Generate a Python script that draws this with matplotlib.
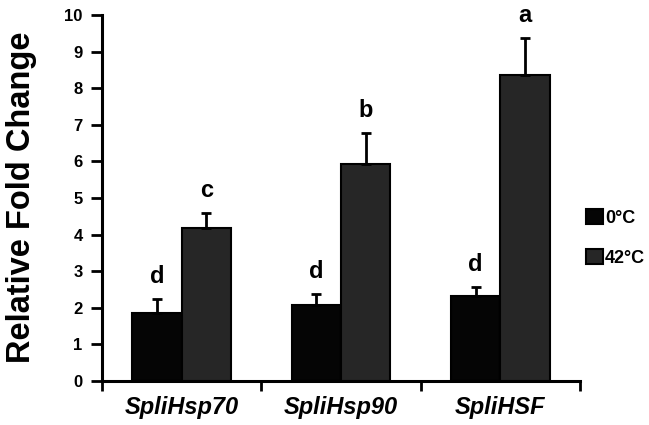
import numpy as np
import matplotlib
matplotlib.use("Agg")
import matplotlib.pyplot as plt

plt.rcParams['font.family'] = ['Liberation Sans', 'DejaVu Sans']

# data
genes = ["SpliHsp70", "SpliHsp90", "SpliHSF"]
cold = [1.87, 2.09, 2.31]          # 0°C
cold_err = [0.38, 0.30, 0.25]
hot = [4.17, 5.92, 8.36]           # 42°C
hot_err = [0.41, 0.85, 1.01]
cold_letters = ["d", "d", "d"]
hot_letters = ["c", "b", "a"]
series_names = ["0°C", "42°C"]

fig = plt.figure(figsize=(6.49, 4.25), dpi=100)
ax = fig.add_axes([102/649, 44/425, 478/649, 366/425])

x = np.arange(len(genes))
w = 0.31

ax.bar(x - w/2, cold, w, color="#050505", edgecolor="black", linewidth=1.5,
       label=series_names[0], zorder=2)
ax.bar(x + w/2, hot, w, color="#262626", edgecolor="black", linewidth=1.5,
       label=series_names[1], zorder=2)

# only upper error bars
ax.errorbar(x - w/2, cold, yerr=[np.zeros(3), cold_err], fmt="none",
            ecolor="black", elinewidth=2, capsize=3.6, capthick=2, zorder=3)
ax.errorbar(x + w/2, hot, yerr=[np.zeros(3), hot_err], fmt="none",
            ecolor="black", elinewidth=2, capsize=3.6, capthick=2, zorder=3)

# significance letters
for i in range(len(genes)):
    ax.text(x[i] - w/2, cold[i] + cold_err[i] + 0.3, cold_letters[i],
            ha="center", va="bottom", fontsize=17, fontweight="bold")
    ax.text(x[i] + w/2, hot[i] + hot_err[i] + 0.3, hot_letters[i],
            ha="center", va="bottom", fontsize=17, fontweight="bold")

ax.set_ylim(0, 10)
ax.set_yticks(range(0, 11))
ax.set_xlim(-0.5, 2.5)

# boundary ticks as major, labels at category centres as minor
ax.set_xticks([-0.5, 0.5, 1.5, 2.5])
ax.set_xticklabels([])
ax.set_xticks(x, minor=True)
ax.set_xticklabels(genes, minor=True, fontsize=17, fontweight="bold",
                   fontstyle="italic")
ax.tick_params(axis="x", which="major", direction="out", length=7, width=2)
ax.tick_params(axis="x", which="minor", length=0, pad=11)
ax.tick_params(axis="y", direction="out", length=8, width=2, labelsize=12,
               pad=6)
for lab in ax.get_yticklabels():
    lab.set_fontweight("bold")

ax.spines["top"].set_visible(False)
ax.spines["right"].set_visible(False)
ax.spines["left"].set_linewidth(2.2)
ax.spines["bottom"].set_linewidth(2.2)

fig.text(22/649, 0.535, "Relative Fold Change", rotation=90, ha="center",
         va="center", fontsize=23.5, fontweight="bold")

fig.legend(loc="center left", bbox_to_anchor=(570/649, 187/425),
           frameon=False, handlelength=0.9, handleheight=0.9,
           handletextpad=0.15, labelspacing=1.2,
           prop={"weight": "bold", "size": 13})

fig.savefig("out.png", dpi=100)
